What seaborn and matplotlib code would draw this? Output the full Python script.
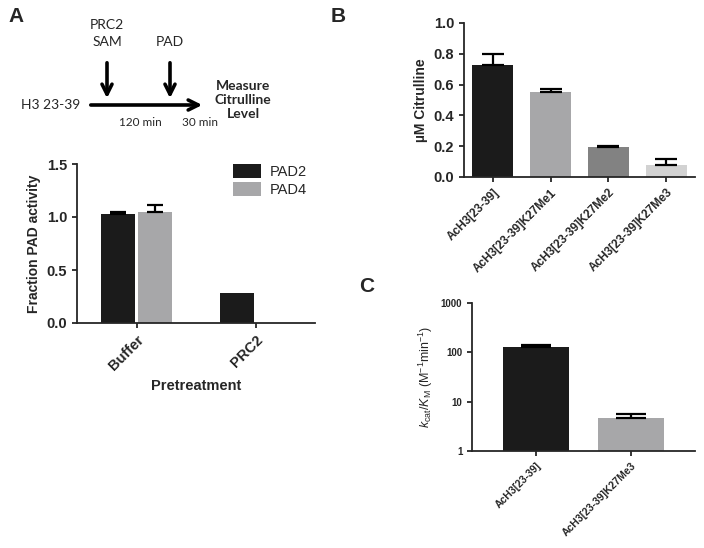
#!/usr/bin/env python3
"""
PAD citrullination of H3 23-39 peptides - three panel figure
"""

import matplotlib.pyplot as plt
import numpy as np
import pandas as pd
import seaborn as sns

# Panel A: fraction PAD activity after pretreatment
pretreatments = ["Buffer", "PRC2"]
enzymes = ["PAD2", "PAD4"]
pad2_activity = [1.03, 0.28]
pad2_err = [0.02, 0.0]
pad4_activity = [1.05, 0.0]
pad4_err = [0.06, 0.0]

# Panel B: citrulline produced per peptide
peptides_b = ["AcH3[23-39]", "AcH3[23-39]K27Me1", "AcH3[23-39]K27Me2", "AcH3[23-39]K27Me3"]
citrulline = [0.73, 0.555, 0.195, 0.08]
citrulline_err = [0.07, 0.017, 0.004, 0.04]

# Panel C: kcat/KM
peptides_c = ["AcH3[23-39]", "AcH3[23-39]K27Me3"]
kcat_km = [130.0, 4.7]
kcat_km_err = [8.0, 1.0]

BLACK = "#1b1b1b"
GREY = "#a7a7a9"
B_COLORS = [BLACK, "#a7a7a9", "#828282", "#d2d2d2"]

sns.set_style("ticks")
plt.rcParams["font.family"] = ["Liberation Sans", "DejaVu Sans"]
plt.rcParams["mathtext.fontset"] = "custom"
plt.rcParams["mathtext.rm"] = "Liberation Sans"
plt.rcParams["mathtext.it"] = "Liberation Sans:italic"
plt.rcParams["axes.linewidth"] = 1.3
plt.rcParams["xtick.major.width"] = 1.3
plt.rcParams["ytick.major.width"] = 1.3
plt.rcParams["xtick.major.size"] = 3.5
plt.rcParams["ytick.major.size"] = 3.5

W, H = 704, 548
fig = plt.figure(figsize=(W / 100, H / 100), dpi=100)


def px_axes(left, top, right, bottom):
    return fig.add_axes([left / W, 1 - bottom / H, (right - left) / W, (bottom - top) / H])


def up_errorbars(ax, bars, values, errs, capsize):
    # GraphPad style: only the upper half of each error bar
    xs, ys, es = [], [], []
    for b, v, e in zip(bars, values, errs):
        if e > 0:
            xs.append(b.get_x() + b.get_width() / 2)
            ys.append(v)
            es.append(e)
    ax.errorbar(xs, ys, yerr=[np.zeros(len(es)), es], fmt="none",
                ecolor="black", elinewidth=1.6, capsize=capsize, capthick=1.6, zorder=3)


def style_axes(ax):
    sns.despine(ax=ax)
    for lab in ax.get_yticklabels():
        lab.set_fontweight("bold")
    for lab in ax.get_xticklabels():
        lab.set_fontweight("bold")


# ---- diagram + panel letters on an overlay axes in pixel coords
ax_d = fig.add_axes([0, 0, 1, 1], zorder=-1)
ax_d.set_xlim(0, W)
ax_d.set_ylim(H, 0)
ax_d.axis("off")
diag_font = ["Lato", "DejaVu Sans"]
arrow_kw = dict(arrowstyle="->", lw=2.6, color="black", mutation_scale=18)
ax_d.annotate("", xy=(205, 105), xytext=(88, 105), arrowprops=arrow_kw)
ax_d.annotate("", xy=(107, 101), xytext=(107, 60), arrowprops=arrow_kw)
ax_d.annotate("", xy=(170, 101), xytext=(170, 60), arrowprops=arrow_kw)
ax_d.text(80, 105, "H3 23-39", ha="right", va="center", fontsize=10, family=diag_font)
ax_d.text(107, 25, "PRC2", ha="center", va="center", fontsize=10, family=diag_font)
ax_d.text(107, 42, "SAM", ha="center", va="center", fontsize=10, family=diag_font)
ax_d.text(170, 42, "PAD", ha="center", va="center", fontsize=10, family=diag_font)
ax_d.text(140, 122, "120 min", ha="center", va="center", fontsize=8.5, family=diag_font)
ax_d.text(200, 122, "30 min", ha="center", va="center", fontsize=8.5, family=diag_font)
ax_d.text(243, 100, "Measure\nCitrulline\nLevel", ha="center", va="center", fontsize=10,
          fontweight="bold", family=diag_font, linespacing=1.25)
for letter, x, y in [("A", 16, 16), ("B", 338, 17), ("C", 367, 286)]:
    ax_d.text(x, y, letter, ha="center", va="center", fontsize=15, fontweight="bold")

# ---- Panel A
df_a = pd.DataFrame({
    "Pretreatment": pretreatments * 2,
    "Enzyme": [enzymes[0]] * 2 + [enzymes[1]] * 2,
    "Activity": pad2_activity + pad4_activity,
})
ax_a = px_axes(77, 164, 315, 323)
sns.barplot(data=df_a, x="Pretreatment", y="Activity", hue="Enzyme", hue_order=enzymes,
            palette=[BLACK, GREY], width=0.62, gap=0.1, linewidth=0, errorbar=None,
            saturation=1, ax=ax_a)
for cont, vals, errs in zip(ax_a.containers, [pad2_activity, pad4_activity], [pad2_err, pad4_err]):
    up_errorbars(ax_a, cont, vals, errs, capsize=5.5)
ax_a.set_xlim(-0.5, 1.5)
ax_a.set_ylim(0, 1.5)
ax_a.set_yticks([0, 0.5, 1.0, 1.5])
ax_a.set_yticklabels(["0.0", "0.5", "1.0", "1.5"], fontsize=10.5)
ax_a.set_xticks([0, 1])
ax_a.set_xticklabels(pretreatments, rotation=45, ha="right", rotation_mode="anchor", fontsize=10.5)
ax_a.set_ylabel("Fraction PAD activity", fontsize=10, fontweight="bold")
ax_a.set_xlabel("Pretreatment", fontsize=10.5, fontweight="bold", labelpad=4)
ax_a.legend(loc="upper right", bbox_to_anchor=(1.02, 1.08), frameon=False, fontsize=10.5,
            handlelength=1.9, handleheight=1.1, handletextpad=0.6, labelspacing=0.2)
style_axes(ax_a)

# ---- Panel B
df_b = pd.DataFrame({"Peptide": peptides_b, "Citrulline": citrulline})
ax_b = px_axes(464, 23, 695, 177)
sns.barplot(data=df_b, x="Peptide", y="Citrulline", hue="Peptide", palette=B_COLORS,
            width=0.71, linewidth=0, errorbar=None, saturation=1, legend=False, ax=ax_b)
bars_b = [c[0] for c in ax_b.containers]
up_errorbars(ax_b, bars_b, citrulline, citrulline_err, capsize=8)
ax_b.set_xlim(-0.5, 3.5)
ax_b.set_ylim(0, 1.0)
ax_b.set_yticks([0, 0.2, 0.4, 0.6, 0.8, 1.0])
ax_b.set_yticklabels(["0.0", "0.2", "0.4", "0.6", "0.8", "1.0"], fontsize=10.5)
ax_b.set_xticks(range(len(peptides_b)))
ax_b.set_xticklabels(peptides_b, rotation=45, ha="right", rotation_mode="anchor", fontsize=8.5)
ax_b.set_ylabel("\u00b5M Citrulline", fontsize=10, fontweight="bold")
ax_b.set_xlabel("")
style_axes(ax_b)

# ---- Panel C (log axis; bars are drawn linear, then the axis is switched to log)
df_c = pd.DataFrame({"Peptide": peptides_c, "kcat_km": kcat_km})
ax_c = px_axes(472, 303, 695, 451)
sns.barplot(data=df_c, x="Peptide", y="kcat_km", hue="Peptide", palette=[BLACK, GREY],
            width=0.69, linewidth=0, errorbar=None, saturation=1, legend=False, ax=ax_c)
ax_c.set_yscale("log", nonpositive="clip")
bars_c = [c[0] for c in ax_c.containers]
up_errorbars(ax_c, bars_c, kcat_km, kcat_km_err, capsize=11)
ax_c.set_xlim(-0.67, 1.67)
ax_c.set_ylim(1, 1000)
ax_c.set_yticks([1, 10, 100, 1000])
ax_c.set_yticklabels(["1", "10", "100", "1000"], fontsize=7)
ax_c.minorticks_off()
ax_c.set_xticks(range(len(peptides_c)))
ax_c.set_xticklabels(peptides_c, rotation=45, ha="right", rotation_mode="anchor", fontsize=7.5)
ax_c.set_ylabel(r"$k_{\mathrm{cat}}/K_{\mathrm{M}}$ (M$^{-1}$min$^{-1}$)", fontsize=9)
ax_c.set_xlabel("")
style_axes(ax_c)

fig.savefig("out.png", dpi=100)
